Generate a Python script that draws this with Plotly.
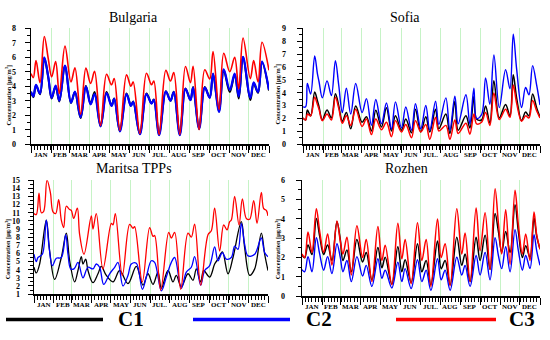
import plotly.graph_objects as go

# ---------------- data (day of year, concentration in ug/m3) ----------------
MONTHS = ["JAN", "FEB", "MAR", "APR", "MAY", "JUN", "JUL.", "AUG", "SEP", "OCT", "NOV", "DEC"]
MONTH_STARTS = [0, 31, 59, 90, 120, 151, 181, 212, 243, 273, 304, 334, 365]

# Bulgaria
bg_days = [0, 3.6, 7.7, 13.8, 20.4, 26.5, 31.7, 37.8, 43.4, 52.1,
           61.3, 67.4, 76.1, 84.2, 91.4, 97.5, 106.7, 115.9, 123.5, 127.6,
           136.3, 146.5, 153.2, 156.7, 167.0, 177.1, 184.8, 188.4, 196.5, 206.8,
           213.9, 219.0, 228.2, 236.9, 244.5, 248.6, 257.8, 266.5, 274.1, 279.2,
           288.4, 295.6, 304.8, 312.4, 318.6, 325.2, 336.4, 341.5, 348.2, 354.3,
           365.0]
bg_c1 = [3.6, 3.25, 4.05, 3.45, 5.95, 4.6, 3.15, 4.0, 2.95, 5.4,
         2.85, 3.6, 1.8, 4.02, 2.78, 3.6, 1.25, 3.6, 2.66, 3.15,
         0.9, 3.5, 2.66, 2.95, 0.7, 3.5, 2.82, 3.08, 0.65, 3.66,
         3.0, 3.62, 0.65, 3.85, 3.05, 3.95, 1.05, 3.95, 3.22, 4.85,
         2.25, 5.1, 3.6, 4.8, 3.15, 6.0, 3.05, 4.2, 3.55, 5.65,
         3.7]
bg_c2 = [3.64, 3.3, 4.1, 3.5, 6.0, 4.65, 3.2, 4.05, 3.0, 5.43,
         2.86, 3.64, 1.85, 3.98, 2.75, 3.46, 1.23, 3.53, 2.64, 3.13,
         0.89, 3.46, 2.64, 2.93, 0.69, 3.46, 2.8, 3.06, 0.63, 3.64,
         3.0, 3.6, 0.63, 3.82, 3.04, 3.9, 1.07, 3.9, 3.2, 4.87,
         2.23, 5.16, 3.75, 4.87, 3.3, 6.03, 3.2, 4.27, 3.6, 5.7,
         3.75]
bg_c3 = [4.87, 4.6, 5.77, 4.25, 7.44, 5.9, 4.65, 5.7, 3.5, 6.77,
         4.3, 5.27, 2.08, 5.25, 4.2, 5.03, 1.3, 4.83, 4.1, 4.54,
         0.96, 4.8, 4.0, 4.3, 0.74, 4.9, 4.1, 4.36, 0.67, 5.1,
         4.36, 4.94, 0.67, 5.36, 4.25, 5.38, 1.0, 5.14, 4.5, 6.4,
         2.4, 6.28, 5.0, 6.0, 3.82, 7.33, 4.53, 5.77, 4.3, 7.04,
         5.1]

# Sofia
sf_days = [0, 4.1, 6.7, 11.8, 18.0, 22.1, 24.7, 29.8, 37.0, 43.7,
           49.9, 55.0, 60.6, 66.8, 73.5, 81.2, 91.0, 97.7, 105.4, 112.1,
           120.8, 128.5, 136.2, 142.4, 151.6, 158.3, 167.1, 173.2, 181.4, 189.1,
           195.3, 204.1, 209.2, 220.0, 226.2, 233.9, 239.0, 250.9, 257.0, 263.2,
           267.3, 275.0, 281.2, 287.8, 294.0, 302.3, 312.0, 318.7, 323.8, 329.0,
           336.7, 342.8, 348.0, 353.6, 359.8, 365.0]
sf_c1 = [2.04, 1.88, 2.66, 2.2, 4.05, 3.4, 2.9, 1.88, 2.66, 2.04,
         3.92, 3.0, 1.78, 2.46, 1.2, 2.96, 1.7, 2.14, 1.03, 2.64,
         1.33, 2.84, 1.03, 2.2, 1.08, 1.96, 0.88, 2.71, 0.95, 2.14,
         0.95, 2.71, 1.2, 2.34, 0.83, 3.34, 1.08, 2.2, 1.26, 3.72,
         1.96, 1.88, 2.96, 1.63, 4.92, 2.04, 3.09, 2.2, 5.4, 3.6,
         1.83, 2.5, 2.2, 3.9, 2.84, 2.09]
sf_c2 = [2.9, 2.9, 4.72, 3.9, 6.86, 5.5, 4.85, 3.6, 4.92, 3.77,
         6.48, 4.6, 2.46, 4.35, 2.34, 4.72, 2.46, 3.54, 1.46, 3.47,
         1.58, 3.2, 1.16, 3.29, 1.26, 2.89, 1.08, 3.14, 1.2, 3.0,
         1.08, 3.34, 1.53, 3.6, 1.08, 3.72, 1.58, 3.84, 1.58, 4.35,
         2.0, 2.3, 5.15, 3.1, 6.93, 2.84, 5.78, 4.3, 8.54, 5.85,
         2.84, 4.4, 3.84, 6.1, 4.6, 3.04]
sf_c3 = [2.04, 1.88, 2.34, 2.2, 3.64, 3.1, 2.71, 1.83, 2.34, 1.88,
         3.64, 2.8, 1.63, 2.2, 1.46, 2.71, 1.38, 1.96, 0.75, 1.96,
         1.13, 1.7, 0.58, 1.83, 0.95, 1.53, 0.5, 1.83, 0.95, 1.53,
         0.38, 2.09, 1.03, 1.46, 0.38, 1.88, 0.83, 1.63, 0.78, 2.34,
         1.58, 1.7, 2.46, 1.46, 3.97, 1.91, 2.71, 2.09, 4.6, 3.2,
         1.78, 2.2, 2.04, 3.4, 2.6, 2.04]

# Maritsa TPPs
mt_c1_days = [0, 3.6, 8.8, 19.2, 24.4, 32.2, 42.6, 50.4, 55.6, 63.4,
              68.6, 73.8, 76.4, 80.6, 84.2, 92.0, 99.8, 105.0, 112.8, 123.2,
              133.6, 146.6, 159.6, 170.0, 177.8, 185.6, 193.4, 198.6, 209.0, 216.8,
              222.0, 229.8, 240.2, 248.0, 253.2, 260.0, 264.6, 274.0, 281.8, 287.0,
              293.8, 302.6, 310.4, 323.4, 328.6, 336.4, 344.2, 354.6, 359.8, 365.0]
mt_c1 = [4.3, 3.6, 4.7, 10.1, 6.3, 2.8, 5.5, 8.5, 5.1, 2.5,
         3.9, 5.6, 4.7, 5.3, 3.9, 2.4, 3.5, 4.4, 3.3, 2.5,
         3.9, 2.3, 4.4, 2.1, 3.5, 2.2, 3.7, 1.7, 3.9, 2.5,
         3.3, 1.9, 3.5, 2.7, 4.1, 2.5, 3.9, 3.1, 4.7, 5.3,
         6.2, 3.5, 5.5, 9.9, 6.7, 3.3, 4.1, 8.5, 5.9, 3.9]
mt_c2_days = [0, 3.6, 6.2, 13.0, 19.2, 23.4, 28.6, 34.8, 42.6, 49.4,
              53.0, 57.2, 62.4, 68.6, 76.4, 84.2, 92.0, 97.2, 102.4, 108.7,
              118.0, 125.8, 131.0, 138.8, 146.6, 151.8, 159.6, 169.0, 175.2, 183.0,
              188.2, 198.6, 206.4, 214.2, 219.4, 229.8, 237.6, 245.4, 250.6, 260.0,
              266.2, 274.0, 281.8, 287.0, 293.8, 300.0, 307.8, 313.0, 318.2, 323.4,
              328.6, 333.8, 344.2, 354.6, 359.8, 365.0]
mt_c2 = [5.9, 5.0, 5.5, 5.9, 10.1, 6.9, 4.5, 5.4, 5.5, 8.3,
         5.9, 4.1, 4.1, 4.9, 3.0, 4.3, 4.1, 4.7, 4.3, 2.2,
         3.5, 4.3, 4.9, 2.0, 3.3, 4.7, 4.8, 1.6, 3.1, 5.1,
         4.9, 1.4, 3.1, 4.9, 5.5, 1.7, 3.7, 4.3, 5.6, 2.1,
         3.9, 4.5, 6.8, 5.1, 6.1, 5.3, 5.5, 6.9, 6.5, 9.7,
         7.1, 5.7, 5.9, 7.9, 6.1, 5.6]
mt_c3_days = [0, 3.6, 7.8, 11.4, 15.1, 20.3, 25.5, 29.6, 33.8, 38.5,
              42.6, 46.3, 50.4, 55.6, 58.2, 61.9, 67.6, 71.2, 78.0, 89.4,
              92.0, 97.2, 107.6, 120.6, 123.2, 126.9, 137.8, 149.2, 154.4, 157.0,
              168.9, 180.4, 185.6, 188.2, 197.6, 210.1, 214.2, 219.4, 228.8, 240.2,
              245.4, 250.6, 260.0, 271.4, 276.6, 281.8, 289.6, 295.9, 301.1, 305.2,
              307.8, 313.0, 319.8, 325.0, 331.2, 336.4, 342.7, 347.9, 354.6, 358.3,
              362.4, 365.0]
mt_c3 = [10.9, 10.77, 13.4, 11.0, 11.17, 15.0, 13.5, 11.1, 10.9, 12.6,
         10.1, 9.18, 11.8, 11.4, 11.3, 10.3, 11.57, 8.3, 5.9, 10.6,
         9.0, 10.9, 4.1, 9.7, 9.5, 10.9, 3.3, 9.58, 9.1, 9.3,
         2.5, 9.18, 8.1, 8.2, 1.5, 8.6, 7.9, 8.6, 1.6, 8.5,
         8.0, 9.6, 2.1, 8.3, 8.78, 11.57, 6.3, 9.5, 8.9, 9.9,
         10.1, 13.0, 9.5, 12.7, 10.3, 10.2, 12.5, 9.7, 13.5, 11.5,
         11.3, 10.6]

# Rozhen
rz_days = [0, 4.1, 9.2, 15.3, 22.0, 27.1, 33.2, 39.3, 45.9, 53.6,
           58.7, 62.8, 68.9, 75.6, 84.2, 92.9, 98.5, 107.2, 116.4, 122.5,
           127.6, 137.8, 147.0, 153.1, 158.2, 167.4, 177.1, 183.8, 190.4, 197.6,
           207.8, 213.4, 219.5, 227.2, 237.4, 245.0, 250.1, 257.8, 267.0, 273.1,
           280.8, 288.4, 296.1, 301.2, 306.3, 312.4, 319.1, 326.7, 331.8, 338.0,
           343.1, 349.7, 355.8, 359.9, 365.0]
rz_c1 = [2.13, 1.98, 2.65, 2.15, 4.02, 3.1, 2.15, 2.65, 1.84, 3.85,
         2.93, 1.84, 2.38, 1.26, 2.93, 1.76, 2.26, 0.84, 2.51, 1.47,
         2.01, 0.62, 2.55, 1.26, 1.88, 0.7, 2.71, 1.26, 1.84, 0.59,
         2.85, 1.42, 1.84, 0.59, 3.05, 1.59, 2.18, 0.75, 3.05, 1.84,
         3.15, 1.37, 4.27, 3.35, 2.26, 3.35, 2.26, 4.73, 3.35, 2.0,
         2.6, 2.0, 4.06, 3.1, 2.43]
rz_c2 = [1.37, 1.26, 2.04, 1.26, 3.02, 2.18, 1.34, 2.04, 1.17, 2.71,
         2.0, 1.26, 1.84, 0.75, 2.04, 1.04, 1.59, 0.5, 1.93, 0.92,
         1.34, 0.42, 1.76, 0.75, 1.42, 0.39, 1.88, 0.75, 1.34, 0.3,
         1.93, 0.84, 1.34, 0.3, 2.01, 1.09, 1.59, 0.5, 2.1, 1.09,
         2.26, 0.84, 3.02, 2.1, 1.42, 2.55, 1.26, 3.44, 2.35, 1.34,
         2.1, 1.42, 3.18, 2.35, 1.59]
rz_c3 = [2.18, 2.0, 3.32, 2.26, 4.52, 3.35, 2.26, 3.22, 1.6, 3.89,
         2.85, 2.18, 3.05, 1.09, 3.64, 2.0, 2.93, 0.75, 3.6, 1.84,
         2.63, 0.59, 3.77, 1.93, 2.93, 0.64, 3.8, 1.84, 2.93, 0.5,
         3.99, 2.0, 2.71, 0.54, 4.52, 2.18, 3.27, 0.75, 4.56, 2.35,
         4.32, 1.37, 5.56, 3.77, 2.18, 4.47, 1.64, 5.48, 3.69, 2.18,
         3.22, 1.84, 4.36, 3.18, 2.43]

SERIES_NAMES = ["C1", "C2", "C3"]
SERIES_COLORS = ["#000000", "#0000ff", "#ff0000"]

# ---------------- layout helpers ----------------
W, H = 550, 340
def px(x):
    return x / W
def py(y):
    return 1 - y / H

SERIF = "Liberation Serif"

panels = [
    dict(title="Bulgaria", x=(31, 269), y=(25, 144), yr=(0, 8), title_pos=(133, 14), ylab_pos=(9, 94),
         mlab_y=155, lw=(2.0, 2.2, 1.6), stand=7,
         data=[(bg_days, bg_c1), (bg_days, bg_c2), (bg_days, bg_c3)]),
    dict(title="Sofia", x=(303, 540), y=(25, 144), yr=(0, 9), title_pos=(405, 14), ylab_pos=(278, 93),
         mlab_y=155, lw=(1.5, 1.4, 1.5), stand=9,
         data=[(sf_days, sf_c1), (sf_days, sf_c2), (sf_days, sf_c3)]),
    dict(title="Maritsa TPPs", x=(34, 268), y=(181, 298), yr=(1, 15), title_pos=(134, 169), ylab_pos=(8, 252),
         mlab_y=309, lw=(1.3, 1.3, 1.3), stand=6,
         data=[(mt_c1_days, mt_c1), (mt_c2_days, mt_c2), (mt_c3_days, mt_c3)]),
    dict(title="Rozhen", x=(302, 540), y=(181, 300), yr=(0, 6), title_pos=(406, 169), ylab_pos=(278, 252),
         mlab_y=311, lw=(1.5, 1.4, 1.5), stand=9,
         data=[(rz_days, rz_c1), (rz_days, rz_c2), (rz_days, rz_c3)]),
]

fig = go.Figure()
annotations = []
shapes = []
layout = {}

for i, p in enumerate(panels):
    n = "" if i == 0 else str(i + 1)
    xa, ya = "x" + n, "y" + n
    for (xs, ys), name, col, lw in zip(p["data"], SERIES_NAMES, SERIES_COLORS, p["lw"]):
        fig.add_trace(go.Scatter(x=xs, y=ys, mode="lines", name=name, xaxis=xa, yaxis=ya,
                                 line=dict(color=col, width=lw, shape="spline", smoothing=1.0),
                                 showlegend=False, hoverinfo="skip"))
    layout["xaxis" + n] = dict(
        domain=[px(p["x"][0]), px(p["x"][1])], range=[0, 365], anchor=ya,
        tickmode="array", tickvals=MONTH_STARTS, ticks="outside", ticklen=7, tickwidth=1,
        tickcolor="black", showticklabels=False,
        showgrid=True, gridcolor="#c6f3c6", gridwidth=1,
        showline=True, linecolor="black", linewidth=1.5, zeroline=False, fixedrange=True,
        minor=dict(tickmode="linear", tick0=0, dtick=5, ticks="outside", ticklen=4,
                   tickwidth=1, tickcolor="black", showgrid=False),
    )
    layout["yaxis" + n] = dict(
        domain=[py(p["y"][1]), py(p["y"][0])], range=list(p["yr"]), anchor=xa,
        tickmode="linear", tick0=0, dtick=1, ticks="outside", ticklen=5, tickwidth=1,
        tickcolor="black", ticklabelstandoff=p["stand"],
        tickfont=dict(family=SERIF, size=8, color="black", weight="bold"),
        showgrid=False, showline=True, linecolor="black", linewidth=1.5, zeroline=False,
        fixedrange=True,
        minor=dict(tickmode="linear", tick0=0, dtick=0.5, ticks="outside", ticklen=3,
                   tickwidth=1, tickcolor="black", showgrid=False),
    )
    # title
    annotations.append(dict(text=p["title"], x=px(p["title_pos"][0]), y=py(p["title_pos"][1]),
                            xref="paper", yref="paper", showarrow=False, xanchor="center", yanchor="middle",
                            font=dict(family=SERIF, size=14, color="black")))
    # y-axis title
    annotations.append(dict(text="Concentration [μg/m<sup>3</sup>]", x=px(p["ylab_pos"][0]), y=py(p["ylab_pos"][1]),
                            xref="paper", yref="paper", showarrow=False, textangle=-90,
                            xanchor="center", yanchor="middle",
                            font=dict(family=SERIF, size=6.3, color="black", weight="bold")))
    # month labels
    for m in range(12):
        annotations.append(dict(text=MONTHS[m], x=(MONTH_STARTS[m] + MONTH_STARTS[m + 1]) / 2,
                                y=py(p["mlab_y"]), xref=xa, yref="paper", showarrow=False,
                                xanchor="center", yanchor="middle",
                                font=dict(family=SERIF, size=7, color="black", weight="bold")))

# custom legend (line + label)
legend_lines = [(6, 103), (193, 290), (396, 496)]
legend_text_x = [116, 304, 507]
for (x0, x1), tx, name, col in zip(legend_lines, legend_text_x, SERIES_NAMES, SERIES_COLORS):
    shapes.append(dict(type="line", xref="paper", yref="paper", x0=px(x0), x1=px(x1), y0=py(324), y1=py(324),
                       line=dict(color=col, width=3.5)))
    annotations.append(dict(text=name, x=px(tx), y=py(324), xref="paper", yref="paper", showarrow=False,
                            xanchor="left", yanchor="middle",
                            font=dict(family=SERIF, size=21, color="black", weight="bold")))

fig.update_layout(
    width=W, height=H, margin=dict(l=0, r=0, t=0, b=0),
    paper_bgcolor="white", plot_bgcolor="white", showlegend=False,
    annotations=annotations, shapes=shapes, **layout,
)

fig.write_html("out.html", config={"displayModeBar": False, "staticPlot": True},
               post_script="document.body.style.margin='0';document.body.style.overflow='hidden';")
